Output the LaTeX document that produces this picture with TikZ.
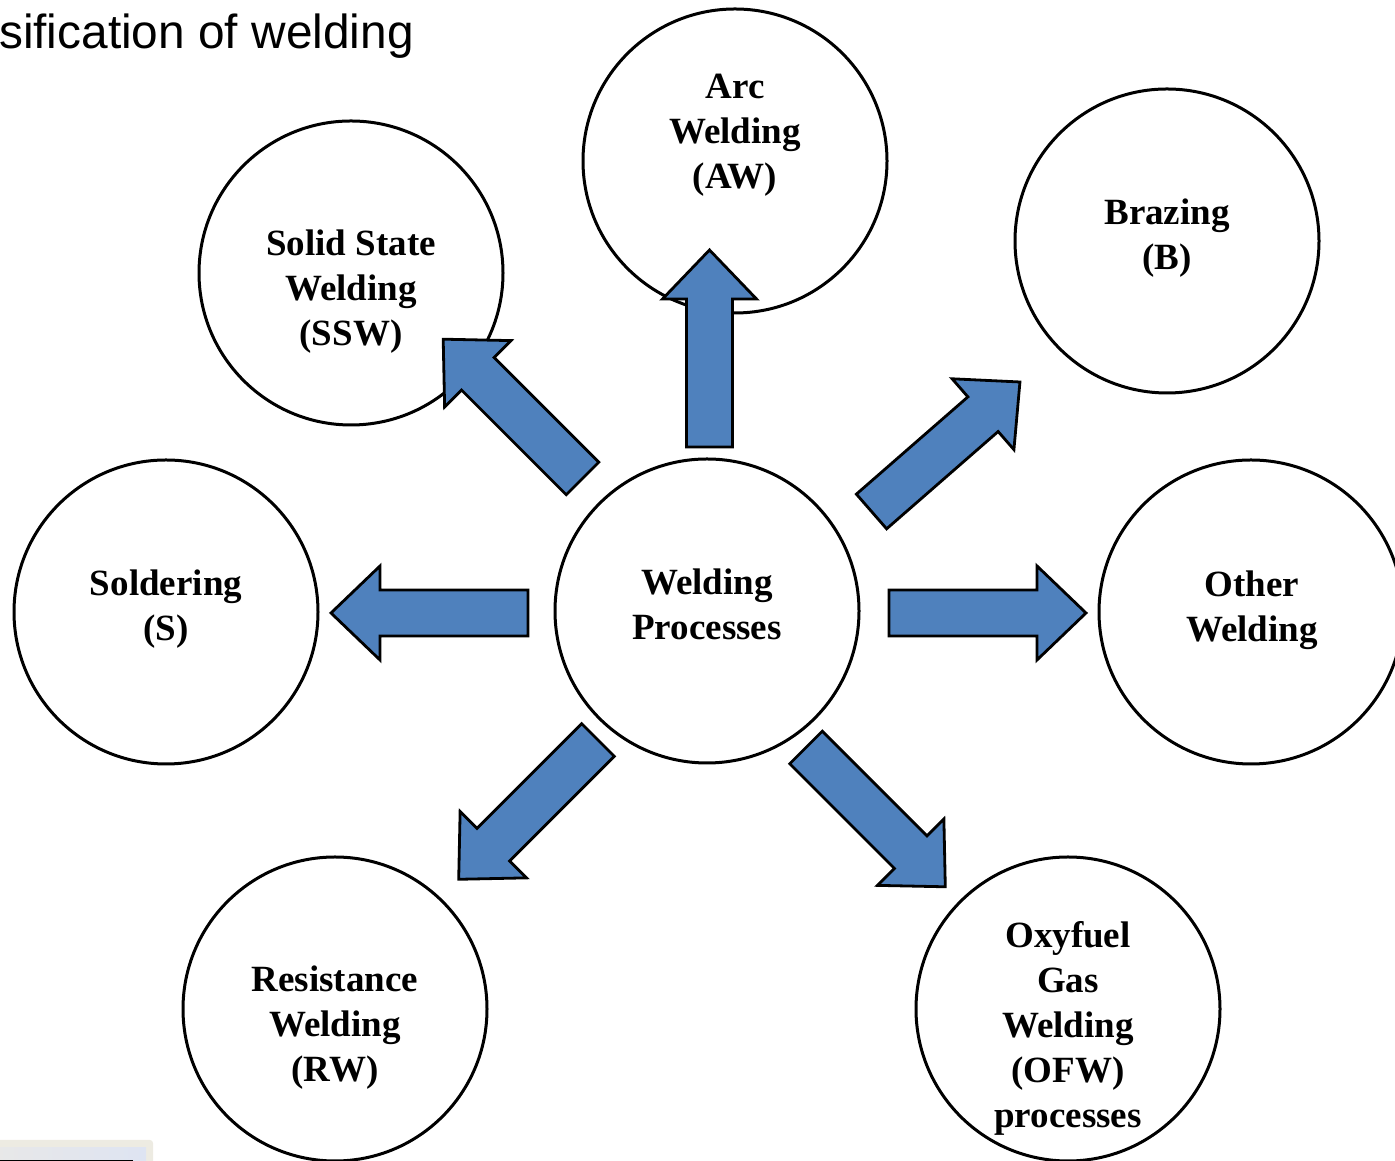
\documentclass[tikz,border=0pt]{standalone}
\usepackage{fontspec}
\setmainfont{Liberation Serif}
\newfontfamily\titlefont{Liberation Sans}
\definecolor{arrowblue}{RGB}{79,129,189}
\definecolor{boxbeige}{RGB}{237,235,226}
\definecolor{boxgrey}{RGB}{232,232,232}
\definecolor{boxblue}{RGB}{222,228,242}
\begin{document}
\begin{tikzpicture}[x=1pt,y=1pt]
\tikzset{
  bubble/.style={circle, draw=black, line width=3pt, minimum size=304pt, inner sep=0pt, fill=white},
  lbl/.style={font=\fontsize{37}{45}\selectfont\bfseries, align=center, inner sep=0pt},
  arrowfill/.style={fill=arrowblue, draw=black, line width=2.8pt, line join=miter},
  blockarr/.pic={\path[arrowfill] (0,-23) -- (148,-23) -- (148,-47) -- (197,0) -- (148,47) -- (148,23) -- (0,23) -- cycle;}
}
\useasboundingbox (0,0) rectangle (1395,1161);
\clip (0,0) rectangle (1395,1161);

% title
\node[font=\titlefont\fontsize{47.8}{56}\selectfont, anchor=base west, inner sep=0pt] (title) at (-1,1112) {sification of welding};

% bottom-left remnant box
\fill[boxbeige, rounded corners=3pt] (-5,-5) rectangle (153,21);
\shade[left color=boxgrey, right color=boxblue] (-5,-5) rectangle (146,13);
\draw[black, line width=1.5pt] (0,0.5) -- (133,0.5);

% circles
\node[bubble] (arc) at (735,1000) {};
\node[bubble] (ssw) at (351,888) {};
\node[bubble] (braz) at (1167,920) {};
\node[bubble] (sold) at (166,549) {};
\node[bubble] (wp) at (707,550) {};
\node[bubble] (other) at (1251,549) {};
\node[bubble] (rw) at (335,152) {};
\node[bubble] (ofw) at (1068,152) {};

% labels
\node[lbl] (arcT) at (735,1025.5) {Arc\\Welding\\(AW)};
\node[lbl] (sswT) at (351,869.5) {Solid State\\Welding\\(SSW)};
\node[lbl] (brazT) at (1167,923) {Brazing\\(B)};
\node[lbl] (soldT) at (166,552) {Soldering\\(S)};
\node[lbl] (wpT) at (707,557) {Welding\\Processes};
\node[lbl] (otherT) at (1252,551) {Other\\Welding};
\node[lbl] (rwT) at (335,133.5) {Resistance\\Welding\\(RW)};
\node[lbl] (ofwT) at (1068,133) {Oxyfuel\\Gas\\Welding\\(OFW)\\processes};

% block arrows (tail centre, direction)
\coordinate (tUp) at (709.5,714);
\coordinate (tLeft) at (528,548);
\coordinate (tRight) at (889,548);
\coordinate (tNW) at (582.5,682.5);
\coordinate (tNE) at (871.5,649.5);
\coordinate (tSW) at (598,421);
\coordinate (tSE) at (806,413.5);
\pic[rotate=90] at (tUp) {blockarr};
\pic[rotate=180] at (tLeft) {blockarr};
\pic[rotate=0] at (tRight) {blockarr};
\pic[rotate=135] at (tNW) {blockarr};
\pic[rotate=41.1] at (tNE) {blockarr};
\pic[rotate=-135] at (tSW) {blockarr};
\pic[rotate=-45] at (tSE) {blockarr};
\end{tikzpicture}
\end{document}
